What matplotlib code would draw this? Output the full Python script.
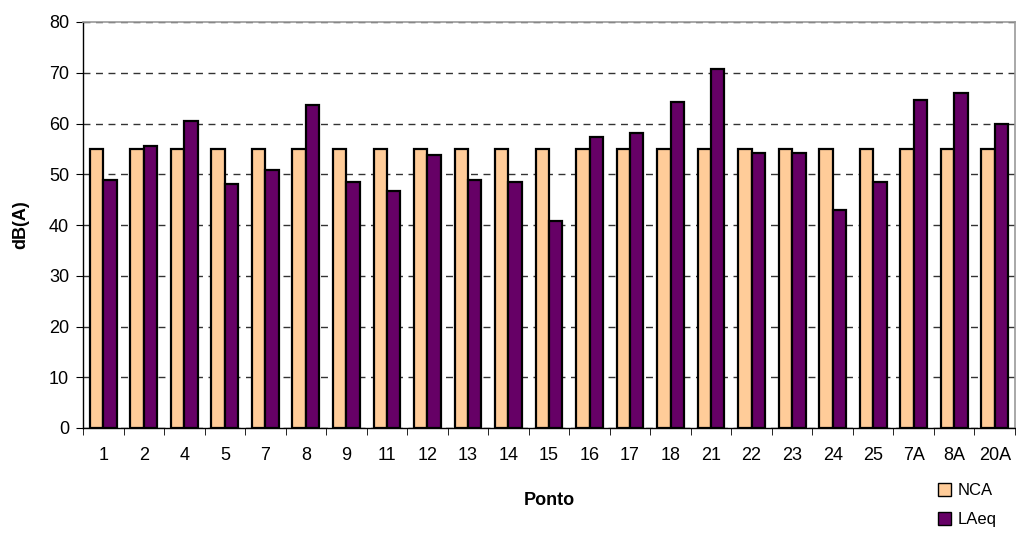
import matplotlib
matplotlib.use("Agg")
import matplotlib.pyplot as plt
import numpy as np
from matplotlib.patches import Patch

plt.rcParams['font.family'] = ['Liberation Sans', 'DejaVu Sans']

pontos = ["1", "2", "4", "5", "7", "8", "9", "11", "12", "13", "14", "15",
          "16", "17", "18", "21", "22", "23", "24", "25", "7A", "8A", "20A"]
nca = [55] * len(pontos)
laeq = [48.9, 55.6, 60.4, 48.1, 50.8, 63.6, 48.5, 46.7, 53.8, 48.9, 48.5, 40.7,
        57.4, 58.2, 64.2, 70.8, 54.1, 54.1, 43.0, 48.5, 64.6, 66.0, 60.0]

fig = plt.figure(figsize=(10.16, 5.36), dpi=100)
ax = fig.add_axes([83 / 1016, 1 - 428 / 536, (1015 - 83) / 1016, (428 - 22) / 536])

x = np.arange(len(pontos))
w = 0.33
ax.bar(x - w / 2, nca, width=w, color="#FFCC99", edgecolor="black", linewidth=1.6,
       label="NCA", zorder=3)
ax.bar(x + w / 2, laeq, width=w, color="#660066", edgecolor="black", linewidth=1.6,
       label="LAeq", zorder=3)

ax.set_xlim(-0.5, len(pontos) - 0.5)
ax.set_ylim(0, 80)
ax.set_yticks(np.arange(0, 81, 10))
ax.yaxis.grid(True, linestyle=(0, (5, 4)), color="#333333", linewidth=1, zorder=0)

ax.set_xticks(x)
ax.set_xticklabels(pontos, fontsize=13)
ax.set_xticks(np.arange(-0.5, len(pontos), 1), minor=True)
ax.tick_params(axis="x", which="major", length=0, pad=14)
ax.tick_params(axis="x", which="minor", length=5, direction="out", color="black")
ax.tick_params(axis="y", length=5, direction="out", labelsize=13, color="black", pad=5)

for s in ("top", "right"):
    ax.spines[s].set_color("#999999")
    ax.spines[s].set_linewidth(1.2)
for s in ("left", "bottom"):
    ax.spines[s].set_color("black")
    ax.spines[s].set_linewidth(1)

ax.set_ylabel("dB(A)", fontsize=13, fontweight="bold", labelpad=14)
ax.set_xlabel("Ponto", fontsize=13, fontweight="bold", labelpad=20)

handles = [Patch(facecolor="#FFCC99", edgecolor="black", linewidth=1),
           Patch(facecolor="#660066", edgecolor="black", linewidth=1)]
fig.legend(handles, ["NCA", "LAeq"], loc="center left",
           bbox_to_anchor=(923 / 1016, 1 - 505 / 536), frameon=False,
           fontsize=12, handlelength=0.8, handleheight=0.8, handletextpad=0.4,
           labelspacing=0.85)

fig.savefig("out.png", dpi=100)
